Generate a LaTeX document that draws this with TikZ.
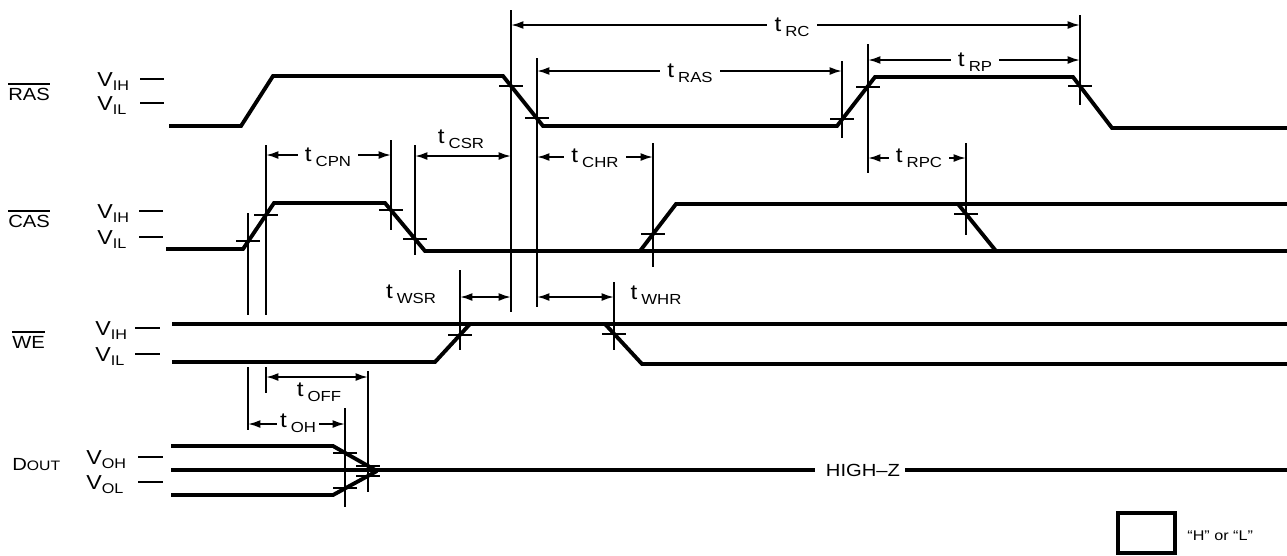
\documentclass[tikz,border=0pt]{standalone}
\usepackage{graphicx}
\usepackage{fontspec}
\setmainfont{Liberation Sans}
\usetikzlibrary{arrows.meta}
\newcommand\tlab[1]{\scalebox{1.15}[1]{\fontsize{12}{14}\selectfont t\,\raisebox{-2.6pt}{\fontsize{8.3}{9}\selectfont #1}}}
\newcommand\vlab[1]{\scalebox{1.15}[1]{\fontsize{11.5}{13}\selectfont V\raisebox{-2.8pt}{\fontsize{8}{9}\selectfont #1}}}
\newcommand\sig[1]{\scalebox{1.15}[1]{\fontsize{10}{12}\selectfont #1}}
\begin{document}
\begin{tikzpicture}[x=0.02cm,y=-0.02cm,
  wave/.style={line width=2.2pt,line join=miter},
  dimline/.style={line width=1.1pt},
  dimarrow/.style={line width=1.1pt,{Latex[length=7pt,width=4.5pt]}-{Latex[length=7pt,width=4.5pt]}},
  lvtick/.style={line width=1.1pt},
  xmark/.style={line width=1.1pt},
  tl/.style={fill=white,inner xsep=4pt,inner ysep=1pt},
  signame/.style={anchor=west,inner sep=0pt},
  vname/.style={anchor=base west,inner sep=0pt},
  ovl/.style={line width=0.8pt}]
\useasboundingbox (0,0) rectangle (1287,555);

% ---- signal names ----
\node[signame] (ras) at (8,94) {\sig{RAS}};
\node[signame] (cas) at (8,221) {\sig{CAS}};
\node[signame] (we) at (12,342) {\sig{WE}};
\node[signame] (dout) at (12,465) {\sig{D{\fontsize{7.8}{9}\selectfont OUT}}};
\draw[ovl] ([yshift=2pt]ras.north west) -- ([yshift=2pt]ras.north east);
\draw[ovl] ([yshift=2pt]cas.north west) -- ([yshift=2pt]cas.north east);
\draw[ovl] ([yshift=2pt]we.north west) -- ([yshift=2pt]we.north east);

% ---- level labels ----
\node[vname] (rasih) at (97,86) {\vlab{IH}};
\node[vname] (rasil) at (97,110) {\vlab{IL}};
\node[vname] (casih) at (97,218) {\vlab{IH}};
\node[vname] (casil) at (97,244) {\vlab{IL}};
\node[vname] (weih) at (95,335) {\vlab{IH}};
\node[vname] (weil) at (95,361) {\vlab{IL}};
\node[vname] (doh) at (86,464) {\vlab{OH}};
\node[vname] (dol) at (86,489) {\vlab{OL}};
\draw[lvtick] (140,79) -- (164,79);
\draw[lvtick] (140,103) -- (164,103);
\draw[lvtick] (139,211) -- (163,211);
\draw[lvtick] (139,237) -- (163,237);
\draw[lvtick] (135,328) -- (160,328);
\draw[lvtick] (135,354) -- (160,354);
\draw[lvtick] (138,457) -- (163,457);
\draw[lvtick] (138,482) -- (163,482);

% ---- waveforms ----
% RAS
\draw[wave] (169,126) -- (241,126) -- (273,76) -- (503,76) -- (543,126) -- (837,126) -- (875,77) -- (1073,77) -- (1112,128) -- (1287,128);
% CAS
\draw[wave] (166,249) -- (243,249) -- (274,203) -- (385,203) -- (425,251) -- (1287,251);
\draw[wave] (640,251) -- (676,204) -- (1287,204);
\draw[wave] (958,204) -- (996,251);
% WE
\draw[wave] (172,324) -- (1287,324);
\draw[wave] (172,362) -- (435,362) -- (470,324);
\draw[wave] (605,324) -- (642,364) -- (1287,364);
% DOUT
\draw[wave] (171,446) -- (333,446) -- (377,471);
\draw[wave] (171,495) -- (333,495) -- (377,471);
\node[inner sep=0pt] (hz) at (863,470) {\scalebox{1.15}[1]{\fontsize{10}{12}\selectfont HIGH–Z}};
\draw[wave] (171,470) -- (815,470);
\draw[wave] (905,470) -- (1287,470);

% ---- crossing marks ----
\foreach \x/\y in {511/86, 537/118, 842/119, 868/87, 1080/86,
                   248/241, 266/215, 391/210, 415/239, 653/234, 966/214,
                   460/335, 614/334,
                   345/453, 345/488, 368/466, 368/476}
  \draw[xmark] (\x-12,\y) -- (\x+12,\y);

% ---- extension lines ----
\draw[dimline] (248,213) -- (248,315);
\draw[dimline] (248,367) -- (248,430);
\draw[dimline] (266,145) -- (266,315);
\draw[dimline] (266,367) -- (266,393);
\draw[dimline] (391,140) -- (391,230);
\draw[dimline] (415,145) -- (415,255);
\draw[dimline] (511,10) -- (511,312);
\draw[dimline] (537,58) -- (537,307);
\draw[dimline] (653,143) -- (653,267);
\draw[dimline] (842,61) -- (842,138);
\draw[dimline] (868,44) -- (868,173);
\draw[dimline] (966,143) -- (966,235);
\draw[dimline] (1080,15) -- (1080,105);
\draw[dimline] (460,270) -- (460,350);
\draw[dimline] (614,282) -- (614,350);
\draw[dimline] (368,371) -- (368,492);
\draw[dimline] (345,408) -- (345,507);

% ---- timing arrows ----
\draw[dimarrow] (511,25) -- (1080,25);
\node[tl] (trc) at (792,27) {\tlab{RC}};
\draw[dimarrow] (537,71) -- (842,71);
\node[tl] (tras) at (690,73) {\tlab{RAS}};
\draw[dimarrow] (868,60) -- (1080,60);
\node[tl] (trp) at (975,62) {\tlab{RP}};
\draw[dimarrow] (266,155) -- (391,155);
\node[tl] (tcpn) at (328,157) {\tlab{CPN}};
\draw[dimarrow] (415,156) -- (511,156);
\node[inner sep=0pt] (tcsr) at (461,139) {\tlab{CSR}};
\draw[dimarrow] (537,157) -- (653,157);
\node[tl] (tchr) at (595,158) {\tlab{CHR}};
\draw[dimarrow] (868,158) -- (966,158);
\node[tl] (trpc) at (919,158) {\tlab{RPC}};
\draw[dimarrow] (460,297) -- (511,297);
\node[inner sep=0pt] (twsr) at (411,294) {\tlab{WSR}};
\draw[dimarrow] (537,297) -- (614,297);
\node[inner sep=0pt] (twhr) at (656,295) {\tlab{WHR}};
\draw[dimarrow] (266,377) -- (368,377);
\node[inner sep=0pt] (toff) at (319,392) {\tlab{OFF}};
\draw[dimarrow] (248,424) -- (345,424);
\node[tl,inner xsep=2pt] (toh) at (298,423) {\tlab{OH}};

% ---- legend ----
\draw[line width=2.3pt] (1118,513) rectangle (1175,553);
\node[anchor=west,inner sep=0pt] (leg) at (1187,536) {\scalebox{1.15}[1]{\fontsize{8}{9}\selectfont “H” or “L”}};
\end{tikzpicture}
\end{document}
